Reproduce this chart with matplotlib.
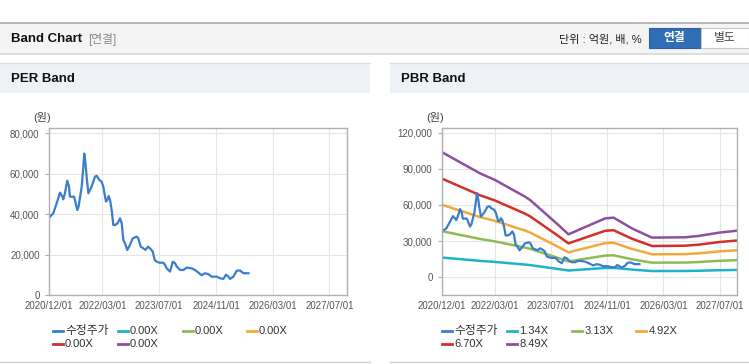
import pandas as pd
import numpy as np
import matplotlib
matplotlib.use("Agg")
import matplotlib.pyplot as plt
import matplotlib.dates as mdates
import matplotlib.ticker as ticker
from matplotlib.patches import Rectangle
from matplotlib.lines import Line2D

plt.rcParams['font.family'] = ['Liberation Sans', 'Noto Sans CJK KR', 'DejaVu Sans']

W, H = 749, 364
base = pd.Timestamp("2020-12-01")

# adjusted close (수정주가), days after 2020/12/01
price_days = [0, 34, 63, 92, 112, 120, 134, 154, 169, 177, 212, 220, 240, 252, 269, 278,
              292, 300, 312, 320, 335, 363, 392, 406, 429, 449, 463, 486, 498, 509, 521,
              535, 549, 564, 584, 607, 621, 635, 649, 669, 692, 715, 750, 764, 784, 807,
              824, 847, 864, 887, 904, 921, 944, 978, 993, 1007, 1036, 1059, 1079, 1093,
              1122, 1150, 1179, 1222, 1250, 1279, 1307, 1336, 1365, 1393, 1436, 1465,
              1493, 1516, 1536, 1551, 1579, 1608, 1637, 1665, 1708]
price = [38500, 40500, 45400, 50700, 48700, 47400, 50400, 56600, 53700, 48700, 48700,
         47000, 42100, 44000, 50400, 53700, 63500, 70000, 64400, 58600, 50400, 53700,
         58600, 59000, 57000, 56100, 53700, 46300, 47100, 49000, 47100, 42100, 34700,
         34700, 35500, 38000, 35500, 27300, 25700, 22400, 24900, 28100, 29000, 28100,
         24000, 23200, 22400, 24000, 23200, 21600, 17400, 16600, 16100, 16100, 15000,
         13300, 11700, 16600, 15800, 14200, 12500, 12500, 13700, 13300, 12500, 11200,
         9900, 10900, 10400, 9200, 9200, 8400, 8100, 10200, 9200, 8100, 9200, 12200,
         12200, 10900, 10900]

# BPS used for the PBR band
bps_days = [0, 327, 457, 717, 761, 1006, 1093, 1411, 1484, 1643, 1816, 2105, 2221, 2395, 2556]
bps = [12210, 10160, 9510, 7880, 7550, 5110, 4200, 5760, 5830, 4780, 3880, 3910, 4040, 4360, 4560]

per_labels = ["0.00X", "0.00X", "0.00X", "0.00X", "0.00X"]
pbr_mult = [1.34, 3.13, 4.92, 6.70, 8.49]

band_colors = ["#1fb3c8", "#8fbb55", "#f2a93b", "#d2302a", "#8e4f9f"]
price_color = "#3a7dcc"

x_ticks = ["2020-12-01", "2022-03-01", "2023-07-01", "2024-11-01", "2026-03-01", "2027-07-01"]

price_dates = base + pd.to_timedelta(price_days, unit="D")
bps_dates = base + pd.to_timedelta(bps_days, unit="D")

fig = plt.figure(figsize=(W / 100, H / 100), dpi=100)
fig.patch.set_facecolor("white")


def fx(x):
    return x / W


def fy(y):
    return 1 - y / H


def rect(x0, y0, x1, y1, fc, ec="none", lw=0):
    fig.add_artist(Rectangle((fx(x0), fy(y1)), (x1 - x0) / W, (y1 - y0) / H,
                             transform=fig.transFigure, fc=fc, ec=ec, lw=lw))


def hline(x0, x1, y, color, lw=1):
    fig.add_artist(Line2D([fx(x0), fx(x1)], [fy(y), fy(y)], transform=fig.transFigure,
                          color=color, lw=lw))


# page header
hline(0, W, 22.5, "#aaaaaa", 1.2)
rect(0, 23, W, 53, "#f4f4f4")
hline(0, W, 53.5, "#d8d8d8", 1.2)
fig.text(fx(11), fy(39), "Band Chart", fontsize=9.5, fontweight="bold", va="center", color="#111111")
fig.text(fx(88), fy(39), "[연결]", fontsize=8.5, va="center", color="#888888")
fig.text(fx(642), fy(39), "단위 : 억원, 배, %", fontsize=8, va="center", ha="right", color="#222222")
rect(648.5, 28.5, 701, 47.5, "#2f6eb5", ec="#2a62a3", lw=0.8)
rect(701, 28.5, 748.5, 47.5, "white", ec="#c8c8c8", lw=0.8)
fig.text(fx(674.7), fy(38.5), "연결", fontsize=8.5, fontweight="bold", va="center", ha="center", color="white")
fig.text(fx(725), fy(38.5), "별도", fontsize=8.5, va="center", ha="center", color="#444444")

# panel headers
for x0, x1, title in [(0, 370, "PER Band"), (390, W, "PBR Band")]:
    rect(x0, 63, x1, 93, "#eef2f7")
    hline(x0, x1, 63, "#dadde2", 1)
    fig.text(fx(x0 + 11), fy(79), title, fontsize=9.5, fontweight="bold", va="center", color="#111111")
    hline(x0, x1, 361.5, "#d0d0d0", 1)


def style_axes(ax, ylim, yticks):
    ax.set_xlim(base, pd.Timestamp("2027-12-01"))
    ax.set_ylim(*ylim)
    ax.set_yticks(yticks)
    ax.yaxis.set_major_formatter(ticker.FuncFormatter(lambda v, p: f"{int(v):,}"))
    ax.set_xticks(pd.to_datetime(x_ticks))
    ax.xaxis.set_major_formatter(mdates.DateFormatter("%Y/%m/%d"))
    ax.grid(True, color="#e6e6e6", lw=0.8)
    ax.set_axisbelow(True)
    for s in ax.spines.values():
        s.set_color("#b0b0b0")
        s.set_linewidth(1)
    ax.tick_params(axis="both", labelsize=7, colors="#555555", length=0, pad=4)
    ax.tick_params(axis="y", length=3, color="#b0b0b0")


def legend(x0, labels, colors):
    cols = [0, 65, 130, 194]
    for i, (lab, c) in enumerate(zip(labels, colors)):
        row, col = divmod(i, 4)
        y = 331 + row * 13
        x = x0 + cols[col]
        fig.add_artist(Line2D([fx(x), fx(x + 10)], [fy(y), fy(y)], transform=fig.transFigure,
                              color=c, lw=2))
        fig.text(fx(x + 12), fy(y), lab, fontsize=8.5 if i == 0 else 8, va="center", color="#333333")


# PER band
ax1 = fig.add_axes([fx(49.3), fy(295.3), (347.3 - 49.3) / W, (295.3 - 128.3) / H])
ax1.plot(price_dates, price, color=price_color, lw=1.6)
style_axes(ax1, (0, 82470), [0, 20000, 40000, 60000, 80000])
fig.text(fx(33), fy(118), "(원)", fontsize=8, va="center", color="#444444")
legend(53, ["수정주가"] + per_labels, [price_color] + band_colors)

# PBR band
ax2 = fig.add_axes([fx(442.3), fy(295.0), (737.3 - 442.3) / W, (295.0 - 128.3) / H])
for m, c in zip(pbr_mult, band_colors):
    ax2.plot(bps_dates, np.array(bps) * m, color=c, lw=1.8)
ax2.plot(price_dates, price, color=price_color, lw=1.6)
style_axes(ax2, (-14700, 123650), [0, 30000, 60000, 90000, 120000])
fig.text(fx(426.5), fy(118), "(원)", fontsize=8, va="center", color="#444444")
legend(442.3, ["수정주가"] + [f"{m:.2f}X" for m in pbr_mult], [price_color] + band_colors)

fig.savefig("out.png", dpi=100)
